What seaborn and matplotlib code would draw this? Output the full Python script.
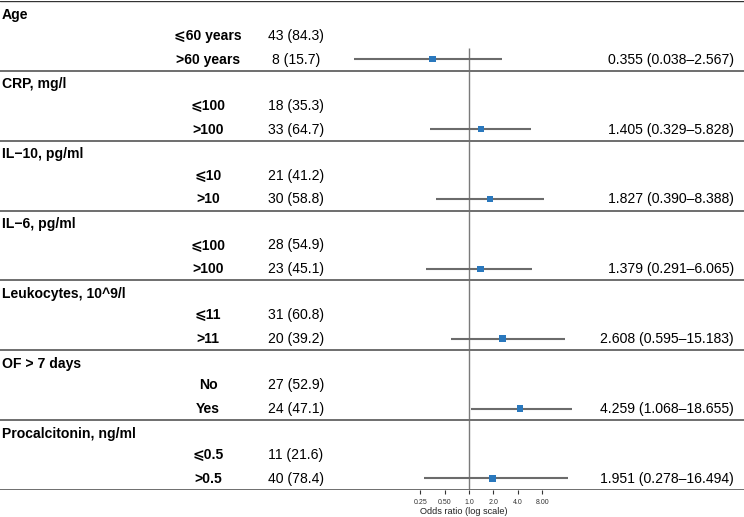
import numpy as np
import pandas as pd
import seaborn as sns
import matplotlib
matplotlib.use("Agg")
import matplotlib.pyplot as plt
from matplotlib.transforms import blended_transform_factory

# table content
groups = ["Age", "CRP, mg/l", "IL\u221210, pg/ml", "IL\u22126, pg/ml",
          "Leukocytes, 10^9/l", "OF > 7 days", "Procalcitonin, ng/ml"]
ref_labels = ["\u2a7d60 years", "\u2a7d100", "\u2a7d10", "\u2a7d100", "\u2a7d11", "No", "\u2a7d0.5"]
cmp_labels = [">60 years", ">100", ">10", ">100", ">11", "Yes", ">0.5"]
ref_counts = ["43 (84.3)", "18 (35.3)", "21 (41.2)", "28 (54.9)", "31 (60.8)", "27 (52.9)", "11 (21.6)"]
cmp_counts = ["8 (15.7)", "33 (64.7)", "30 (58.8)", "23 (45.1)", "20 (39.2)", "24 (47.1)", "40 (78.4)"]
odds = [0.355, 1.405, 1.827, 1.379, 2.608, 4.259, 1.951]
ci_low = [0.038, 0.329, 0.390, 0.291, 0.595, 1.068, 0.278]
ci_high = [2.567, 5.828, 8.388, 6.065, 15.183, 18.655, 16.494]
tick_vals = [0.25, 0.5, 1.0, 2.0, 4.0, 8.0]
tick_labels = ["0.25", "0.50", "1.0", "2.0", "4.0", "8.00"]

sns.set_theme(style="white")
plt.rcParams["font.family"] = ["Liberation Sans", "DejaVu Sans"]
plt.rcParams["text.color"] = "black"

W, H = 744, 517
fig = plt.figure(figsize=(W / 100, H / 100), dpi=100)
ax = fig.add_axes([0, 27 / H, 1, 489 / H])

# x axis: log2, 1.0 sits at px 469, ~24.4 px per doubling
px_per = 24.4
ax.set_xscale("log", base=2)
ax.set_xlim(2 ** (-469 / px_per), 2 ** ((W - 469) / px_per))
ax.set_ylim(len(groups) * 3, 0)

df = pd.DataFrame({
    "group": groups,
    "or": odds,
    "lo": ci_low,
    "hi": ci_high,
})
df["y"] = np.arange(len(groups)) * 3 + 2.5

# reference line at OR = 1
ax.vlines(1.0, 2.0, len(groups) * 3, color="#7a7a7a", lw=1.0, zorder=1)

# confidence intervals and point estimates
ax.hlines(df["y"], df["lo"], df["hi"], color="#6b6b6b", lw=1.5, zorder=2)
sns.scatterplot(data=df, x="or", y="y", marker="s", s=22, color="#2a78bd",
                edgecolor="none", zorder=3, ax=ax, legend=False)

# separators
ax.axhline(0, color="#333333", lw=1.0)
for i in range(len(groups)):
    ax.axhline((i + 1) * 3, color="#6e6e6e", lw=1.4)

tr = blended_transform_factory(ax.transAxes, ax.transData)
fs = 10.1
for i, g in enumerate(groups):
    base = i * 3
    ax.text(2 / W, base + 0.58, g, transform=tr, ha="left", va="center",
            fontsize=fs, fontweight="bold")
    ax.text(208 / W, base + 1.5, ref_labels[i], transform=tr, ha="center",
            va="center", fontsize=fs, fontweight="bold")
    ax.text(208 / W, base + 2.52, cmp_labels[i], transform=tr, ha="center",
            va="center", fontsize=fs, fontweight="bold")
    ax.text(296 / W, base + 1.5, ref_counts[i], transform=tr, ha="center",
            va="center", fontsize=fs)
    ax.text(296 / W, base + 2.52, cmp_counts[i], transform=tr, ha="center",
            va="center", fontsize=fs)
    ax.text(734 / W, base + 2.52,
            f"{odds[i]:.3f} ({ci_low[i]:.3f}\u2013{ci_high[i]:.3f})",
            transform=tr, ha="right", va="center", fontsize=fs)

for s in ax.spines.values():
    s.set_visible(False)
ax.set_yticks([])
ax.set_xticks(tick_vals)
ax.set_xticklabels(tick_labels)
ax.set_xticks([], minor=True)
ax.tick_params(axis="x", bottom=True, length=3, width=0.8, color="#333333",
               labelsize=5, pad=3.5, labelcolor="#333333")
ax.set_xlabel("Odds ratio (log scale)", fontsize=6.6, color="#222222")
ax.xaxis.set_label_coords(464 / W, -(507 - 490) / 489)
ax.set_ylabel("")

fig.savefig("out.png", dpi=100)
